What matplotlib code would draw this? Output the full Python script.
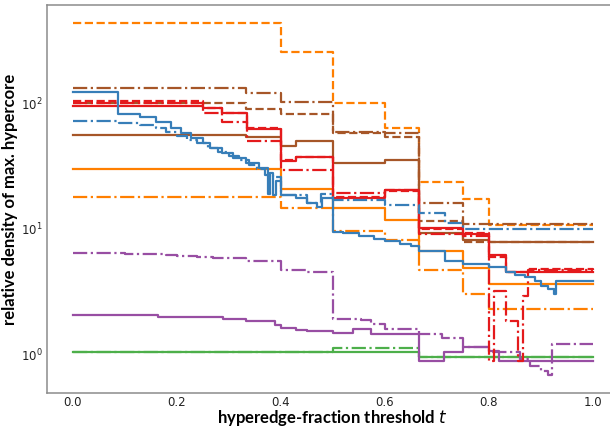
import numpy as np
import matplotlib
matplotlib.use('Agg')
import matplotlib.pyplot as plt

# Set1-like colours used in the figure
colors = {
    'blue': '#377eb8',
    'orange': '#ff7f00',
    'green': '#4daf4a',
    'red': '#e41a1c',
    'purple': '#984ea3',
    'brown': '#a65628',
}

# step curves: threshold t (post-step) and relative density
blue_solid_t = [0, .088, .13, .16, .19, .208, .227, .25, .265, .288, .308, .333, .358, .375, .38, .386, .392,
                .4, .43, .45, .47, .48, .5, .52, .55, .58, .6, .63, .65, .667, .716, .75, .8, .833, .85, .87,
                .89, .9, .915, .925, .93, 1.0]
blue_solid_v = [122, 82, 77, 71, 63, 58, 52.7, 48, 44, 40, 36.6, 33.4, 30.4, 19, 28, 18.5, 24,
                18.6, 17.5, 16, 15, 17.5, 9.5, 9.2, 8.8, 8.3, 8.0, 7.6, 7.3, 6.6, 5.5, 5.2, 5.0, 4.55, 4.3, 4.1,
                3.8, 3.5, 3.3, 3.0, 3.8, 3.8]

blue_dashdot_t = [0, .09, .13, .16, .18, .2, .22, .24, .26, .28, .3, .32, .34, .355, .37, .385,
                  .4, .45, .478, .5, .6, .667, .716, .75, 1.0]
blue_dashdot_v = [72, 70, 67, 63, 59, 55, 51, 48, 44, 41, 38, 35, 32, 30, 27, 26,
                  18.5, 16, 19, 17, 15.5, 13.4, 11.2, 10, 10]

orange_t = [0, .4, .5, .6, .667, .75, .8, 1.0]
orange_dashed_v = [437, 254, 100, 63, 23.6, 17.3, 10.7, 10.7]
orange_solid_v = [30, 20.7, 14.7, 11.8, 6.7, 4.9, 3.6, 3.6]
orange_dashdot_v = [18, 14.7, 9.6, 8.2, 4.7, 3.0, 2.3, 2.3]

brown_dashdot_t = [0, .333, .4, .5, .6, .667, .75, 1.0]
brown_dashdot_v = [131, 120, 102, 59, 57.5, 16, 11, 11]
brown_dashed_t = [0, .333, .4, .5, .6, .667, .75, 1.0]
brown_dashed_v = [100, 90, 82, 58, 53.5, 11.6, 7.9, 7.9]
brown_solid_t = [0, .333, .4, .43, .5, .6, .667, .75, .8, 1.0]
brown_solid_v = [56, 53.5, 45.5, 50, 33.4, 35.4, 9.3, 8.2, 7.8, 7.8]

red_solid_t = [0, .25, .288, .335, .4, .43, .5, .6, .667, .75, .8, .833, 1.0]
red_solid_v = [95, 91, 83, 62, 34.6, 37.2, 17.5, 20.4, 10.2, 9.0, 6.2, 4.55, 4.55]
red_dashed_t = [0, .25, .288, .335, .4, .43, .5, .6, .667, .75, .8, .833, .875, 1.0]
red_dashed_v = [104, 92, 84, 63, 35.5, 37, 18, 20, 10, 9.2, 6.0, 4.5, 4.75, 4.7]
red_dashdot_t = [0, .25, .288, .335, .4, .5, .6, .667, .75, .8, .81, .833, .857, .866, .875, 1.0]
red_dashdot_v = [101, 83, 71, 50, 29.5, 19.3, 20.4, 9.0, 8.8, 0.88, 3.2, 1.83, 0.88, 2.9, 4.7, 4.7]

purple_dashdot_t = [0, .1, .18, .2, .24, .27, .333, .4, .45, .5, .554, .574, .6, .667, .71, .75, .8,
                    .86, .88, .9, .915, .923, 1.0]
purple_dashdot_v = [6.4, 6.3, 6.2, 6.1, 6.0, 5.8, 5.5, 4.7, 4.55, 1.9, 1.87, 1.73, 1.58, 1.44, 1.36, 1.14, 1.04,
                    0.91, 0.80, 0.73, 0.68, 1.2, 1.2]
purple_solid_t = [0, .165, .25, .29, .333, .39, .4, .43, .45, .5, .54, .574, .667, .714, .75, .8, .82, 1.0]
purple_solid_v = [2.04, 2.0, 1.97, 1.9, 1.83, 1.7, 1.61, 1.55, 1.52, 1.49, 1.58, 1.44, 0.88, 1.04, 1.14, 1.06,
                  0.88, 0.88]

green_solid_t = [0, .667, 1.0]
green_solid_v = [1.037, 0.955, 0.955]
green_dashdot_t = [0, .5, .667, 1.0]
green_dashdot_v = [1.04, 1.116, 0.96, 0.96]

series = [
    (green_solid_t, green_solid_v, 'green', '-'),
    (green_dashdot_t, green_dashdot_v, 'green', '-.'),
    (purple_solid_t, purple_solid_v, 'purple', '-'),
    (purple_dashdot_t, purple_dashdot_v, 'purple', '-.'),
    (orange_t, orange_solid_v, 'orange', '-'),
    (orange_t, orange_dashdot_v, 'orange', '-.'),
    (orange_t, orange_dashed_v, 'orange', '--'),
    (brown_solid_t, brown_solid_v, 'brown', '-'),
    (brown_dashed_t, brown_dashed_v, 'brown', '--'),
    (brown_dashdot_t, brown_dashdot_v, 'brown', '-.'),
    (red_solid_t, red_solid_v, 'red', '-'),
    (red_dashed_t, red_dashed_v, 'red', '--'),
    (red_dashdot_t, red_dashdot_v, 'red', '-.'),
    (blue_solid_t, blue_solid_v, 'blue', '-'),
    (blue_dashdot_t, blue_dashdot_v, 'blue', '-.'),
]

fig = plt.figure(figsize=(6.1, 4.29), dpi=100)
ax = fig.add_axes([46.5 / 610, 36 / 429, 572 / 610, 388 / 429])

for t, v, c, ls in series:
    ax.step(t, v, where='post', color=colors[c], linestyle=ls, linewidth=1.6)

ax.set_yscale('log')
ax.set_xticks([0.0, 0.2, 0.4, 0.6, 0.8, 1.0])
ax.tick_params(axis='both', which='both', length=0, labelsize=8.5, labelcolor='#222222')
ax.tick_params(axis='x', pad=2)
ax.tick_params(axis='y', pad=3)

for s in ax.spines.values():
    s.set_color('#8c8c8c')
    s.set_linewidth(1.1)

ax.set_xlabel(r'hyperedge-fraction threshold $t$', fontsize=12, fontweight='bold', family='Lato', labelpad=-0.5)
ax.set_ylabel('relative density of max. hypercore', fontsize=12, fontweight='bold', family='Lato', labelpad=2)

fig.savefig('out.png', dpi=100)
